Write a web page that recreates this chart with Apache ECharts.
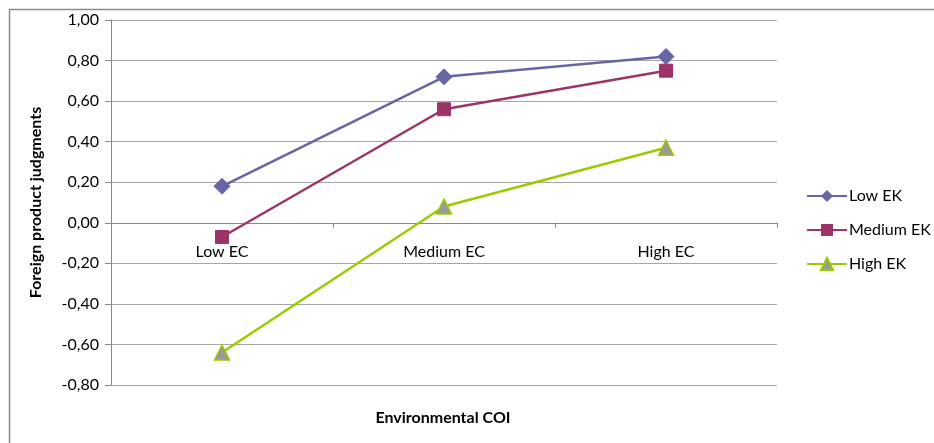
<!DOCTYPE html>
<html>
<head>
<meta charset="utf-8">
<script src="https://cdn.jsdelivr.net/npm/echarts@6/dist/echarts.min.js"></script>
<style>
  html, body { margin: 0; padding: 0; background: #fff; }
  #chart { width: 934px; height: 443px; }
</style>
</head>
<body>
<div id="chart"></div>
<script>
// Conditions on the horizontal axis
var categories = ['Low EC', 'Medium EC', 'High EC'];

// Mean judgments per knowledge group
var lowEK = [0.18, 0.72, 0.82];
var mediumEK = [-0.07, 0.56, 0.75];
var highEK = [-0.64, 0.08, 0.37];

var seriesNames = ['Low EK', 'Medium EK', 'High EK'];

// Vertical axis range
var yMin = -0.8;
var yMax = 1.0;
var yStep = 0.2;

var FONT = 'Lato, "Open Sans", sans-serif';

function fmt(v) {
  var r = Math.round(v * 100) / 100;
  if (Math.abs(r) < 1e-9) r = 0;
  return r.toFixed(2).replace('.', ',');
}

var chart = echarts.init(document.getElementById('chart'), null, { renderer: 'canvas' });

chart.setOption({
  animation: false,
  backgroundColor: '#ffffff',
  textStyle: { fontFamily: FONT },
  grid: { left: 111, right: 157, top: 20, bottom: 58, containLabel: false },
  legend: {
    orient: 'vertical',
    left: 806,
    top: 188,
    padding: 0,
    itemWidth: 40,
    itemHeight: 15,
    itemGap: 18,
    textStyle: { fontFamily: FONT, fontSize: 16, color: '#000', padding: [0, 0, 0, -3] },
    data: seriesNames
  },
  xAxis: {
    type: 'category',
    data: categories,
    boundaryGap: true,
    axisLine: { onZero: false, lineStyle: { color: '#888888', width: 1 } },
    axisTick: { show: true, length: 5, lineStyle: { color: '#888888' } },
    axisLabel: { fontFamily: FONT, fontSize: 16, color: '#000', margin: 21 },
    splitLine: { show: false }
  },
  yAxis: {
    type: 'value',
    min: yMin,
    max: yMax,
    interval: yStep,
    name: 'Foreign product judgments',
    nameLocation: 'middle',
    nameRotate: 90,
    nameGap: 67,
    nameTextStyle: { fontFamily: FONT, fontSize: 16, fontWeight: 'bold', color: '#000' },
    axisLine: { show: true, lineStyle: { color: '#888888', width: 1 } },
    axisTick: { show: true, length: 6, inside: false, lineStyle: { color: '#888888' } },
    axisLabel: { fontFamily: FONT, fontSize: 16, color: '#000', margin: 12, formatter: fmt },
    splitLine: { show: true, lineStyle: { color: '#a6a6a6', width: 1 } }
  },
  graphic: [
    {
      type: 'rect',
      shape: { x: 9.5, y: 9.5, width: 960, height: 460 },
      style: { fill: 'none', stroke: '#8c8c8c', lineWidth: 1.5 },
      silent: true,
      z: -1
    },
    {
      type: 'text',
      x: 443,
      y: 418,
      style: {
        text: 'Environmental COI',
        align: 'center',
        verticalAlign: 'middle',
        font: 'bold 16px ' + FONT,
        fill: '#000'
      }
    }
  ],
  series: [
    {
      name: seriesNames[0],
      type: 'line',
      data: lowEK,
      symbol: 'diamond',
      symbolSize: 16,
      lineStyle: { color: '#6666a6', width: 2.5 },
      itemStyle: { color: '#6666a6', borderColor: '#6666a6' },
      z: 3
    },
    {
      name: seriesNames[1],
      type: 'line',
      data: mediumEK,
      symbol: 'rect',
      symbolSize: 13,
      lineStyle: { color: '#9c3468', width: 2.5 },
      itemStyle: { color: '#9c3468', borderColor: '#9c3468' },
      z: 3
    },
    {
      name: seriesNames[2],
      type: 'line',
      data: highEK,
      symbol: 'triangle',
      symbolSize: 15,
      lineStyle: { color: '#99cc00', width: 2.5 },
      itemStyle: { color: '#999999', borderColor: '#99cc00', borderWidth: 1.5 },
      z: 3
    }
  ]
});

// Lift the category axis so it crosses the value axis at zero
var yZero = chart.convertToPixel({ yAxisIndex: 0 }, 0);
var yBottom = chart.convertToPixel({ yAxisIndex: 0 }, yMin);
chart.setOption({ xAxis: { offset: -(yBottom - yZero) } });
</script>
</body>
</html>
